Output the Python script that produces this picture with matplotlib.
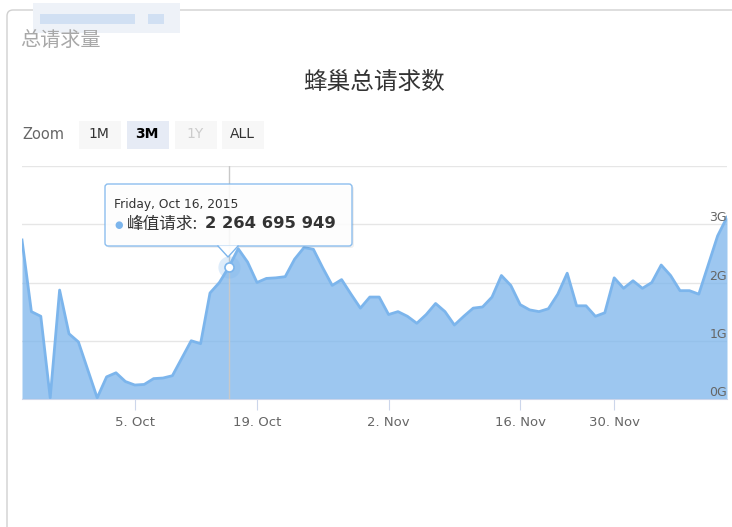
#蜂巢总请求数 - area chart
import pandas as pd
import numpy as np
import matplotlib
matplotlib.use("Agg")
import matplotlib.pyplot as plt
from matplotlib.patches import FancyBboxPatch, Rectangle, Polygon
from matplotlib.lines import Line2D
from matplotlib.transforms import IdentityTransform

CJK = ['Noto Sans CJK SC', 'DejaVu Sans']

# peak requests per day, in G (1e9)
peak_req = [2.73, 1.50, 1.42, 0.02, 1.87, 1.12, 0.98, 0.50, 0.02, 0.38,
            0.45, 0.30, 0.24, 0.25, 0.35, 0.36, 0.40, 0.70, 1.00, 0.95,
            1.82, 2.00, 2.2647, 2.58, 2.35, 2.00, 2.07, 2.08, 2.10, 2.40,
            2.60, 2.57, 2.25, 1.95, 2.05, 1.80, 1.56, 1.75, 1.75, 1.45,
            1.50, 1.42, 1.30, 1.45, 1.64, 1.50, 1.27, 1.42, 1.56, 1.58,
            1.75, 2.12, 1.95, 1.62, 1.53, 1.50, 1.55, 1.80, 2.16, 1.60,
            1.60, 1.42, 1.48, 2.08, 1.90, 2.03, 1.90, 2.00, 2.30, 2.12,
            1.86, 1.86, 1.80, 2.30, 2.80, 3.12]

# days without data (ordinal axis skips them)
missing = ["2015-10-11", "2015-11-21", "2015-11-22", "2015-11-28", "2015-11-29"]
dates = pd.date_range("2015-09-23", "2015-12-20")
dates = dates[~dates.isin(pd.to_datetime(missing))][:len(peak_req)]

tick_dates = ["2015-10-05", "2015-10-19", "2015-11-02", "2015-11-16", "2015-11-30"]
tick_labels = ["5. Oct", "19. Oct", "2. Nov", "16. Nov", "30. Nov"]
y_ticks = [0, 1, 2, 3, 4]
y_labels = ["0G", "1G", "2G", "3G"]

hover_date = "2015-10-16"
hover_text = "2 264 695 949"

W, H = 732, 527
fig = plt.figure(figsize=(W / 100, H / 100), dpi=100)

def fx(x):
    return x / W

def fy(y):
    return 1 - y / H

# panel border
fig.patches.append(FancyBboxPatch((7, -20), 800, H + 10,
                                  boxstyle="round,pad=0,rounding_size=6",
                                  transform=IdentityTransform(), fc='none',
                                  ec='#d0d0d0', lw=1, figure=fig))
# blurred redacted bar at top
fig.patches.append(Rectangle((33, H - 33), 147, 30, transform=IdentityTransform(),
                             fc='#eef2f8', ec='none', figure=fig))
fig.patches.append(Rectangle((40, H - 24), 95, 10, transform=IdentityTransform(),
                             fc='#c6d9f2', ec='none', alpha=0.7, figure=fig))
fig.patches.append(Rectangle((148, H - 24), 16, 10, transform=IdentityTransform(),
                             fc='#c6d9f2', ec='none', alpha=0.7, figure=fig))

fig.text(fx(20), fy(40), "总请求量", family=CJK, fontsize=14.5, color='#a8a8a8',
         ha='left', va='center')
fig.text(fx(374), fy(82), "蜂巢总请求数", family=CJK, fontsize=17, color='#333333',
         ha='center', va='center')

# range selector buttons
fig.text(fx(22), fy(135), "Zoom", fontsize=10.5, color='#666666', ha='left', va='center')
buttons = [("1M", 79, '#f7f7f7', '#333333', 'normal'),
           ("3M", 127, '#e6ebf5', '#000000', 'bold'),
           ("1Y", 175, '#f7f7f7', '#cccccc', 'normal'),
           ("ALL", 222, '#f7f7f7', '#333333', 'normal')]
for lab, bx, bg, col, wt in buttons:
    fig.patches.append(Rectangle((bx, H - 149), 42, 28, transform=IdentityTransform(),
                                 fc=bg, ec='none', figure=fig))
    fig.text(fx(bx + 20), fy(134), lab, fontsize=10, color=col, weight=wt,
             ha='center', va='center')

ax = fig.add_axes([fx(22), fy(399), (727 - 22) / W, (399 - 166) / H])
x = np.arange(len(peak_req))
ax.fill_between(x, peak_req, 0, color='#7cb5ec', alpha=0.75, lw=0, zorder=2)
ax.plot(x, peak_req, color='#7cb5ec', lw=2, solid_joinstyle='round', zorder=3)

ax.set_xlim(0, len(peak_req) - 1)
ax.set_ylim(0, 4)
ax.set_yticks(y_ticks)
ax.set_yticklabels([])
ax.tick_params(axis='y', length=0)
ax.grid(axis='y', color='#e6e6e6', lw=1)
ax.set_axisbelow(True)
for s in ['top', 'left', 'right']:
    ax.spines[s].set_visible(False)
ax.spines['bottom'].set_color('#ccd6eb')
ax.spines['bottom'].set_zorder(4)

tick_idx = [dates.get_loc(pd.Timestamp(d)) for d in tick_dates]
ax.set_xticks(tick_idx)
ax.set_xticklabels(tick_labels)
ax.tick_params(axis='x', color='#ccd6eb', length=8, pad=4, labelsize=9.5,
               labelcolor='#666666')

for v, lab in zip(y_ticks, y_labels):
    ax.text(1.0, v, lab, transform=ax.get_yaxis_transform(), ha='right', va='bottom',
            fontsize=9, color='#666666', zorder=5)

# hover crosshair + marker
hi = dates.get_loc(pd.Timestamp(hover_date))
ax.axvline(hi, color='#c8c8c8', lw=1, zorder=2.5)
ax.plot(hi, peak_req[hi], 'o', ms=16, color='#7cb5ec', alpha=0.25, mec='none', zorder=4)
ax.plot(hi, peak_req[hi], 'o', ms=6.5, mfc='white', mec='#7cb5ec', mew=1.2, zorder=5)

# tooltip
tx0, ty0, tx1, ty1 = 105, 184, 352, 246
fig.patches.append(FancyBboxPatch((tx0 + 2, H - ty1 - 2), tx1 - tx0, ty1 - ty0,
                                  boxstyle="round,pad=0,rounding_size=3",
                                  transform=IdentityTransform(), fc='#000000',
                                  alpha=0.06, ec='none', figure=fig))
fig.patches.append(FancyBboxPatch((tx0, H - ty1), tx1 - tx0, ty1 - ty0,
                                  boxstyle="round,pad=0,rounding_size=3",
                                  transform=IdentityTransform(), fc='#ffffff',
                                  alpha=0.88, ec='#7cb5ec', lw=1, figure=fig))
px = 228
fig.patches.append(Polygon([(px - 10, H - ty1 + 0.5), (px + 10, H - ty1 + 0.5), (px, H - 257)],
                           transform=IdentityTransform(), fc='#ffffff', ec='none',
                           alpha=0.95, figure=fig))
fig.lines.append(Line2D([px - 10, px, px + 10], [H - ty1, H - 257, H - ty1],
                        transform=IdentityTransform(), color='#7cb5ec', lw=1, figure=fig))

fig.text(fx(114), fy(205), "Friday, Oct 16, 2015", fontsize=8.8, color='#333333',
         ha='left', va='center')
fig.text(fx(114), fy(225), "●", fontsize=7, color='#7cb5ec', ha='left', va='center')
fig.text(fx(127), fy(224), "峰值请求:", family=CJK, fontsize=12, color='#333333',
         ha='left', va='center')
fig.text(fx(205), fy(224), hover_text, fontsize=11.8, weight='bold', color='#333333',
         ha='left', va='center')

plt.savefig("out.png", dpi=100)
